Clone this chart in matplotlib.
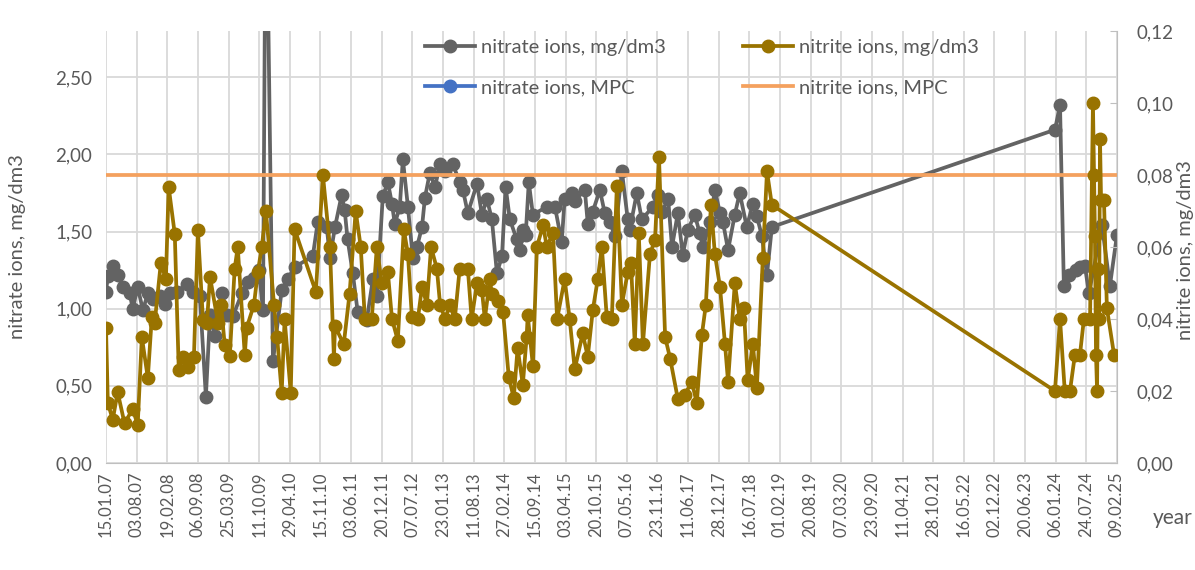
import matplotlib.pyplot as plt
import matplotlib.dates as mdates
import pandas as pd
from matplotlib.ticker import FuncFormatter, MultipleLocator
from matplotlib.lines import Line2D

plt.rcParams['font.family'] = ['Lato', 'DejaVu Sans']

# nitrate ions, mg/dm3 (left axis)
nitrate_dates = [
    "2007-01-15", "2007-01-27", "2007-02-28", "2007-04-01", "2007-05-04", "2007-06-19", "2007-07-08",
    "2007-08-10", "2007-09-13", "2007-10-15", "2007-11-17",
    "2008-01-02", "2008-02-04", "2008-03-06", "2008-04-21", "2008-06-25", "2008-08-04", "2008-09-19",
    "2008-10-28", "2008-11-24", "2008-12-26",
    "2009-02-11", "2009-03-13", "2009-04-22", "2009-06-20", "2009-07-28", "2009-09-07", "2009-10-09",
    "2009-11-05", "2009-11-24",
    "2010-01-09", "2010-03-07", "2010-04-15", "2010-05-30", "2010-09-26", "2010-10-28", "2010-12-26",
    "2011-01-16", "2011-02-18", "2011-04-03", "2011-04-22", "2011-05-11", "2011-06-14", "2011-07-16",
    "2011-09-14", "2011-10-23", "2011-11-18", "2011-12-27",
    "2012-01-29", "2012-02-25", "2012-03-14", "2012-04-16", "2012-05-06", "2012-06-08", "2012-07-10",
    "2012-08-06", "2012-09-08", "2012-09-27", "2012-10-29", "2012-12-02",
    "2013-01-04", "2013-02-06", "2013-03-27", "2013-05-12", "2013-06-02", "2013-07-04", "2013-09-02",
    "2013-10-04", "2013-11-06", "2013-12-08",
    "2014-01-10", "2014-02-12", "2014-03-08", "2014-04-04", "2014-05-19", "2014-06-08", "2014-06-28",
    "2014-07-17", "2014-08-06", "2014-09-02", "2014-12-02",
    "2015-01-24", "2015-03-09", "2015-03-28", "2015-05-13", "2015-06-02", "2015-08-07", "2015-08-26",
    "2015-09-28", "2015-11-13", "2015-12-15",
    "2016-01-18", "2016-02-19", "2016-04-05", "2016-05-13", "2016-05-26", "2016-07-11", "2016-08-13",
    "2016-10-24", "2016-11-26", "2016-12-22",
    "2017-02-01", "2017-02-26", "2017-04-05", "2017-05-07", "2017-06-09", "2017-07-24", "2017-08-26",
    "2017-09-16", "2017-11-01", "2017-12-03",
    "2018-01-05", "2018-01-25", "2018-02-27", "2018-04-12", "2018-05-14", "2018-06-29", "2018-08-08",
    "2018-09-03", "2018-10-06", "2018-11-08", "2018-12-10",
    "2024-01-01", "2024-02-03", "2024-02-28", "2024-04-01", "2024-05-16", "2024-06-12", "2024-07-14",
    "2024-08-10", "2024-11-03", "2024-12-25", "2025-02-09",
]
nitrate_vals = [
    1.11, 1.21, 1.28, 1.22, 1.14, 1.10, 1.00, 1.14, 0.99, 1.10, 1.06,
    1.08, 1.03, 1.10, 1.11, 1.16, 1.11, 1.08, 0.43, 0.96, 0.82,
    1.10, 0.96, 0.95, 1.10, 1.17, 1.20, 1.25, 0.99, 4.00,
    0.66, 1.12, 1.19, 1.27, 1.34, 1.56, 1.53,
    1.33, 1.53, 1.74, 1.64, 1.45, 1.23, 0.98, 0.93, 1.19, 1.08, 1.73,
    1.82, 1.68, 1.55, 1.66, 1.97, 1.66, 1.33, 1.40, 1.53, 1.72, 1.88, 1.79,
    1.94, 1.89, 1.94, 1.82, 1.77, 1.62, 1.81, 1.61, 1.71, 1.58,
    1.23, 1.34, 1.79, 1.58, 1.45, 1.38, 1.51, 1.48, 1.82, 1.61, 1.66,
    1.66, 1.43, 1.71, 1.75, 1.70, 1.77, 1.55, 1.63, 1.77, 1.62,
    1.56, 1.47, 1.89, 1.58, 1.51, 1.75, 1.58, 1.66, 1.74, 1.63,
    1.71, 1.40, 1.62, 1.35, 1.51, 1.61, 1.49, 1.40, 1.56, 1.77,
    1.62, 1.56, 1.38, 1.61, 1.75, 1.53, 1.68, 1.60, 1.47, 1.22, 1.53,
    2.16, 2.32, 1.15, 1.22, 1.25, 1.27, 1.28, 1.10, 1.54, 1.15, 1.48,
]

# nitrite ions, mg/dm3 (right axis)
nitrite_dates = [
    "2007-01-15", "2007-01-27", "2007-02-28", "2007-04-01", "2007-05-16", "2007-07-08", "2007-08-10",
    "2007-09-06", "2007-10-15", "2007-11-10", "2007-11-29",
    "2008-01-08", "2008-02-10", "2008-02-28", "2008-04-08", "2008-05-04", "2008-05-30", "2008-07-02",
    "2008-08-11", "2008-09-06", "2008-10-09", "2008-11-04", "2008-11-24",
    "2009-01-15", "2009-02-04", "2009-02-28", "2009-04-02", "2009-05-04", "2009-05-24", "2009-07-09",
    "2009-07-21", "2009-09-07", "2009-10-02", "2009-10-28", "2009-11-24",
    "2010-01-16", "2010-02-05", "2010-03-07", "2010-03-26", "2010-05-05", "2010-05-30", "2010-10-16",
    "2010-12-01",
    "2011-01-16", "2011-02-11", "2011-02-18", "2011-04-16", "2011-05-24", "2011-07-03", "2011-08-05",
    "2011-09-01", "2011-10-16", "2011-11-18", "2011-12-20",
    "2012-01-29", "2012-02-25", "2012-04-03", "2012-05-12", "2012-06-08", "2012-07-04", "2012-08-12",
    "2012-09-08", "2012-10-10", "2012-11-06", "2012-12-14",
    "2013-01-04", "2013-02-06", "2013-03-08", "2013-04-10", "2013-05-12", "2013-07-04", "2013-07-29",
    "2013-09-02", "2013-10-04", "2013-10-23", "2013-11-25", "2013-12-08",
    "2014-01-17", "2014-02-19", "2014-03-28", "2014-04-30", "2014-05-25", "2014-06-28", "2014-07-23",
    "2014-07-30", "2014-09-02", "2014-09-28", "2014-11-07", "2014-12-02",
    "2015-01-11", "2015-02-07", "2015-03-28", "2015-04-30", "2015-06-02", "2015-07-24", "2015-08-26",
    "2015-09-28", "2015-10-30", "2015-11-26", "2015-12-28",
    "2016-01-30", "2016-03-03", "2016-04-05", "2016-05-13", "2016-06-03", "2016-06-28", "2016-07-24",
    "2016-08-20", "2016-10-05", "2016-11-07", "2016-12-03",
    "2017-01-12", "2017-02-14", "2017-04-05", "2017-05-20", "2017-07-05", "2017-08-07", "2017-09-09",
    "2017-10-05", "2017-11-07", "2017-12-03",
    "2018-01-05", "2018-02-07", "2018-02-27", "2018-04-12", "2018-05-14", "2018-06-10", "2018-07-05",
    "2018-08-08", "2018-09-03", "2018-10-12", "2018-11-08", "2018-12-10",
    "2024-01-01", "2024-02-03", "2024-03-05", "2024-04-08", "2024-05-10", "2024-06-12", "2024-07-08",
    "2024-08-17", "2024-09-05", "2024-09-12", "2024-09-18", "2024-09-25", "2024-10-02", "2024-10-08",
    "2024-10-15", "2024-10-21", "2024-10-28", "2024-11-16", "2024-12-05", "2025-01-21",
]
nitrite_vals = [
    0.0375, 0.0167, 0.012, 0.0197, 0.011, 0.015, 0.0106, 0.035, 0.0236, 0.0405, 0.039,
    0.0556, 0.051, 0.0767, 0.0636, 0.0258, 0.0295, 0.0267, 0.0295, 0.0647, 0.0397, 0.039, 0.0517,
    0.039, 0.044, 0.0328, 0.0297, 0.054, 0.060, 0.030, 0.0375, 0.044, 0.053, 0.060, 0.070,
    0.044, 0.035, 0.0195, 0.040, 0.0195, 0.065, 0.0475, 0.080,
    0.060, 0.029, 0.038, 0.033, 0.047, 0.070, 0.060, 0.040, 0.040, 0.060, 0.050,
    0.053, 0.040, 0.034, 0.065, 0.058, 0.0405, 0.040, 0.049, 0.044, 0.060, 0.054,
    0.044, 0.040, 0.044, 0.040, 0.054, 0.054, 0.040, 0.050, 0.048, 0.040, 0.051, 0.047,
    0.045, 0.042, 0.024, 0.018, 0.032, 0.0217, 0.035, 0.041, 0.027, 0.060, 0.066, 0.060,
    0.064, 0.040, 0.051, 0.040, 0.026, 0.036, 0.0295, 0.0425, 0.051, 0.060, 0.0405,
    0.040, 0.077, 0.044, 0.053, 0.0556, 0.033, 0.064, 0.033, 0.058, 0.062, 0.085,
    0.035, 0.029, 0.0178, 0.019, 0.0225, 0.0167, 0.0356, 0.044, 0.0717, 0.058,
    0.049, 0.033, 0.0225, 0.050, 0.040, 0.043, 0.023, 0.033, 0.0208, 0.057, 0.081, 0.0717,
    0.020, 0.040, 0.020, 0.020, 0.030, 0.030, 0.040, 0.040, 0.100, 0.080, 0.063, 0.030,
    0.020, 0.054, 0.040, 0.090, 0.073, 0.073, 0.043, 0.030,
]

nitrate_mpc = 45.0
nitrite_mpc = 0.08
mpc_dates = ["2007-01-15", "2025-02-09"]

gray = '#636363'
olive = '#997300'
orange = '#F4A15E'
blue = '#4472C4'
txt = '#595959'
grid = '#d9d9d9'

fig = plt.figure(figsize=(11.95, 5.7), dpi=100)
ax = fig.add_axes([106 / 1195, 107 / 570, 1011 / 1195, 432 / 570])
ax2 = ax.twinx()

ax.plot(pd.to_datetime(nitrate_dates), nitrate_vals, color=gray, lw=2.7, marker='o', ms=9, zorder=3)
ax.plot(pd.to_datetime(mpc_dates), [nitrate_mpc] * 2, color=blue, lw=2.7, marker='o', ms=9)
ax2.plot(pd.to_datetime(mpc_dates), [nitrite_mpc] * 2, color=orange, lw=2.7, zorder=2)
ax2.plot(pd.to_datetime(nitrite_dates), nitrite_vals, color=olive, lw=2.7, marker='o', ms=9, zorder=3)

start = pd.Timestamp("2007-01-15")
ticks = pd.date_range(start, periods=34, freq='200D')
ax.set_xlim(ticks[0], ticks[-1])
ax.set_xticks(ticks)
ax.xaxis.set_major_formatter(mdates.DateFormatter('%d.%m.%y'))
ax.tick_params(axis='x', rotation=90, labelsize=12, colors=txt, length=0, pad=6)

comma = FuncFormatter(lambda v, p: f"{v:.2f}".replace('.', ','))
ax.set_ylim(0, 2.8)
ax.yaxis.set_major_locator(MultipleLocator(0.5))
ax.yaxis.set_major_formatter(comma)
ax.tick_params(axis='y', labelsize=13.5, colors=txt, length=0, pad=10)

ax2.set_ylim(0, 0.12)
ax2.yaxis.set_major_locator(MultipleLocator(0.02))
ax2.yaxis.set_major_formatter(comma)
ax2.tick_params(axis='y', labelsize=13.5, colors=txt, length=5, direction='in', pad=14, color='#bfbfbf')

ax.grid(True, color=grid, lw=1.3)
ax.set_axisbelow(True)
for s in ['left', 'top', 'right']:
    ax.spines[s].set_visible(False)
    if s != 'right':
        ax2.spines[s].set_visible(False)
ax2.spines['bottom'].set_visible(False)
ax.spines['bottom'].set_color('#bfbfbf')
ax2.spines['right'].set_color('#bfbfbf')

fig.text(18 / 1195, 1 - 247 / 570, 'nitrate ions, mg/dm3', rotation=90, ha='center', va='center',
         fontsize=14.5, color=txt)
fig.text(1185 / 1195, 1 - 250 / 570, 'nitrite ions, mg/dm3', rotation=90, ha='center', va='center',
         fontsize=14.5, color=txt)
fig.text(1193 / 1195, 1 - 518 / 570, 'year', ha='right', va='center', fontsize=15, color=txt)

handles = [
    Line2D([], [], color=gray, lw=2.7, marker='o', ms=9),
    Line2D([], [], color=blue, lw=2.7, marker='o', ms=9),
    Line2D([], [], color=olive, lw=2.7, marker='o', ms=9),
    Line2D([], [], color=orange, lw=2.7),
]
labels = ['nitrate ions, mg/dm3', 'nitrate ions, MPC', 'nitrite ions, mg/dm3', 'nitrite ions, MPC']
fig.legend(handles, labels, loc='upper left', bbox_to_anchor=(425 / 1195, 1 - 39 / 570), ncol=2,
           frameon=False, fontsize=14.5, labelcolor=txt, handlelength=2.5, handletextpad=0.3,
           columnspacing=3.8, labelspacing=1.15, borderpad=0, borderaxespad=0)

fig.savefig('out.png', dpi=100)
